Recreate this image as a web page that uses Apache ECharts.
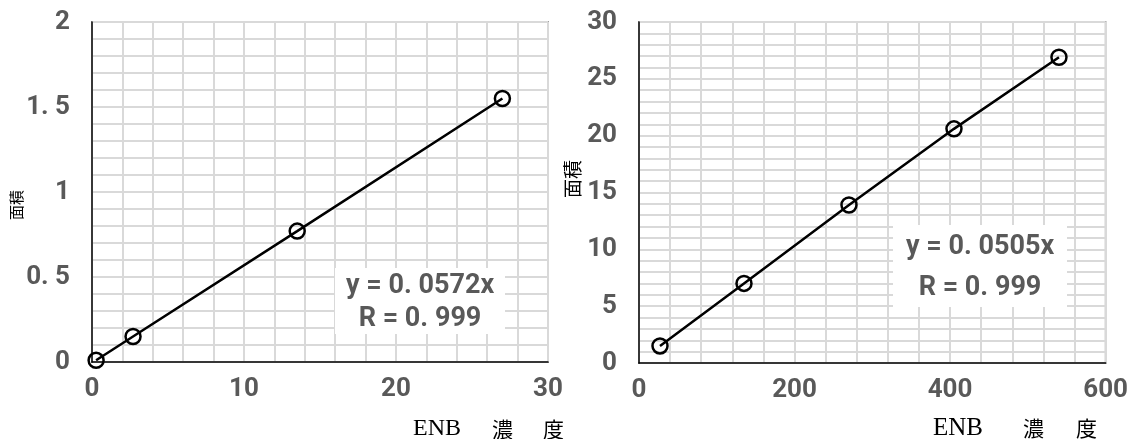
<!DOCTYPE html>
<html>
<head>
<meta charset="utf-8">
<script src="https://cdn.jsdelivr.net/npm/echarts@6/dist/echarts.min.js"></script>
<style>
  html, body { margin: 0; padding: 0; background: #fff; }
  #main { width: 1131px; height: 439px; }
</style>
</head>
<body>
<div id="main"></div>
<script>
// 左: ENB濃度 0-30
var left_x = [0.27, 2.7, 13.5, 27.0];
var left_y = [0.01, 0.15, 0.77, 1.55];
var left_eq = ['y = 0. 0572x', 'R = 0. 999'];

// 右: ENB濃度 0-600
var right_x = [27, 135, 270, 405, 540];
var right_y = [1.5, 7.0, 13.9, 20.6, 26.9];
var right_eq = ['y = 0. 0505x', 'R = 0. 999'];

var axisName = '面積';
var xNameParts = ['ENB', '濃', '度'];

var labelFont = 'Roboto, "Noto Sans", sans-serif';
var gridColor = '#d9d9d9';

function toPairs(xs, ys) {
    var arr = [];
    for (var i = 0; i < xs.length; i++) {
        arr.push([xs[i], ys[i]]);
    }
    return arr;
}

function fmtNum(v) {
    return String(v).replace('.', '. ');
}

function makeX(idx, max, interval) {
    return {
        type: 'value', gridIndex: idx, min: 0, max: max, interval: interval,
        axisLine: { show: true, onZero: false, lineStyle: { color: '#000', width: 1.5 } },
        axisTick: { show: false },
        minorTick: { show: false, splitNumber: 5 },
        splitLine: { show: true, lineStyle: { color: gridColor, width: 2 } },
        minorSplitLine: { show: true, lineStyle: { color: gridColor, width: 2 } },
        axisLabel: { color: '#595959', fontSize: 26, fontWeight: 'bold', fontFamily: labelFont, margin: 14, formatter: fmtNum }
    };
}

function makeY(idx, max, interval) {
    return {
        type: 'value', gridIndex: idx, min: 0, max: max, interval: interval,
        axisLine: { show: true, onZero: false, lineStyle: { color: '#000', width: 1.5 } },
        axisTick: { show: false },
        minorTick: { show: false, splitNumber: 5 },
        splitLine: { show: true, lineStyle: { color: gridColor, width: 2 } },
        minorSplitLine: { show: true, lineStyle: { color: gridColor, width: 2 } },
        axisLabel: { color: '#595959', fontSize: 26, fontWeight: 'bold', fontFamily: labelFont, margin: 22, formatter: fmtNum }
    };
}

function makeSeries(idx, xs, ys) {
    return {
        type: 'line', xAxisIndex: idx, yAxisIndex: idx,
        data: toPairs(xs, ys),
        symbol: 'circle', symbolSize: 15,
        lineStyle: { color: '#000', width: 2.5 },
        itemStyle: { color: 'rgba(0,0,0,0)', borderColor: '#000', borderWidth: 2.5 },
        z: 5
    };
}

// 近似式のボックス (白背景 + 2行)
function eqBox(x, y, w, h, lines) {
    var cx = x + w / 2;
    return [
        { type: 'rect', shape: { x: x, y: y, width: w, height: h }, style: { fill: '#fff' }, z: 9 },
        { type: 'text', x: cx, y: y + h * 0.27, z: 10,
          style: { text: lines[0], fill: '#595959', font: 'bold 27px ' + labelFont, align: 'center', verticalAlign: 'middle' } },
        { type: 'text', x: cx, y: y + h * 0.77, z: 10,
          style: { text: lines[1], fill: '#595959', font: 'bold 27px ' + labelFont, align: 'center', verticalAlign: 'middle' } }
    ];
}

function xNameText(left, top, gap1, gap2, size) {
    return {
        type: 'text', left: left, top: top,
        style: {
            text: '{a|' + xNameParts[0] + '}{b|' + xNameParts[1] + '}{c|' + xNameParts[2] + '}',
            rich: {
                a: { font: size + 'px "Liberation Serif", serif', fill: '#000', padding: [0, gap1, 0, 0] },
                b: { font: '21px "Noto Sans CJK JP"', fill: '#000', padding: [0, gap2, 0, 0] },
                c: { font: '21px "Noto Sans CJK JP"', fill: '#000' }
            }
        }
    };
}

var myChart = echarts.init(document.getElementById('main'));

var graphics = [].concat(
    eqBox(335, 268, 170, 66, left_eq),
    eqBox(893, 225, 174, 82, right_eq),
    [
        {
            type: 'text', left: 9, top: 190, rotation: Math.PI / 2,
            style: { text: axisName, font: '15px "Noto Sans CJK JP"', fill: '#000' }
        },
        {
            type: 'text', left: 563, top: 160, rotation: Math.PI / 2,
            style: { text: axisName, font: '19px "Noto Sans CJK JP"', fill: '#000' }
        },
        xNameText(413, 417, 31, 30, 24),
        xNameText(933, 416, 40, 32, 25)
    ]
);

var option = {
    animation: false,
    grid: [
        { left: 92, top: 22, width: 456, height: 340, show: true, borderColor: '#595959', borderWidth: 1.5, backgroundColor: '#fff' },
        { left: 639, top: 22, width: 468, height: 341, show: true, borderColor: '#595959', borderWidth: 1.5, backgroundColor: '#fff' }
    ],
    xAxis: [makeX(0, 30, 10), makeX(1, 600, 200)],
    yAxis: [makeY(0, 2, 0.5), makeY(1, 30, 5)],
    series: [makeSeries(0, left_x, left_y), makeSeries(1, right_x, right_y)],
    graphic: graphics
};

myChart.setOption(option);
</script>
</body>
</html>
